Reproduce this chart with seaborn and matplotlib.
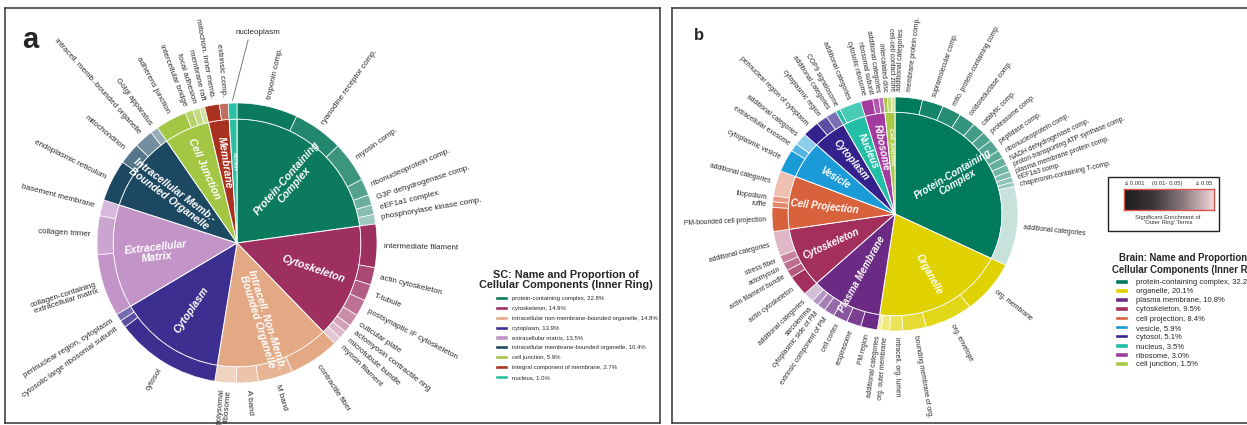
import matplotlib
matplotlib.use("Agg")
import matplotlib.pyplot as plt
import matplotlib.colors as mcolors
from matplotlib.patches import Patch, Rectangle
import numpy as np
import seaborn as sns

sns.set_style("white")
plt.rcParams['font.family'] = ['Liberation Sans', 'DejaVu Sans']

W, H = 1247, 425

# ---------------- panel a : SC ----------------
sc_inner_labels = ["Protein-Containing\nComplex", "Cytoskeleton", "Intracell. Non-Memb.\nBounded Organelle",
                   "Cytoplasm", "Extracellular\nMatrix", "Intracellular Memb.-\nBounded Organelle",
                   "Cell Junction", "Membrane", "Nucleus"]
sc_legend_names = ["protein-containing complex", "cytoskeleton", "intracellular non-membrane-bounded organelle",
                   "cytoplasm", "extracellular matrix", "intracellular membrane-bounded organelle",
                   "cell junction", "integral component of membrane", "nucleus"]
sc_pct = [22.8, 14.9, 14.8, 13.9, 13.5, 10.4, 5.9, 2.7, 1.0]
sc_colors = ["#0b7a5d", "#9e2f61", "#e3a884", "#3c2f8f", "#c294c8", "#1d4862", "#a3c644", "#a8311f", "#2bbfa3"]

sc_sub_group = [0, 0, 0, 0, 0, 0, 0,
                1, 1, 1, 1, 1, 1, 1, 1,
                2, 2, 2, 2,
                3, 3, 3,
                4, 4, 4,
                5, 5, 5, 5,
                6, 6, 6, 6,
                7, 7,
                8]
sc_sub_names = ["troponin comp.", "ryanodine receptor comp.", "myosin comp.", "ribonucleoprotein comp.",
                "G3P dehydrogenase comp.", "eEF1a1 complex", "phosphorylase kinase comp.",
                "intermediate filament", "actin cytoskeleton", "T-tubule", "postsynaptic IF cytoskeleton",
                "cuticular plate", "actomyosin contractile ring", "microtubule bundle", "myosin filament",
                "contractile fiber", "M band", "A band", "polysomal\nribosome",
                "cytosol", "cytosolic large ribosomal subunit", "perinuclear region, cytoplasm",
                "collagen-containing\nextracellular matrix", "collagen trimer", "basement membrane",
                "endoplasmic reticulum", "mitochondrion", "intracell. memb.-bounded organelle", "Golgi apparatus",
                "adherens junction", "intercellular bridge", "focal adhesion", "membrane raft",
                "mitochon. inner memb.", "extrinsic comp.",
                "nucleoplasm"]
sc_sub_pct = [7.0, 5.8, 4.7, 1.9, 1.2, 1.1, 1.1,
              5.0, 2.0, 1.9, 1.9, 1.4, 0.9, 0.9, 0.9,
              5.8, 4.0, 2.5, 2.5,
              12.2, 0.85, 0.85,
              7.2, 4.45, 1.85,
              4.8, 2.5, 2.2, 0.9,
              3.6, 0.9, 0.8, 0.6,
              1.7, 1.0,
              1.0]
sc_sub_tint = [0, 0.1, 0.2, 0.3, 0.4, 0.5, 0.6,
               0, 0.12, 0.22, 0.32, 0.45, 0.55, 0.65, 0.72,
               0, 0.15, 0.32, 0.5,
               0, 0.15, 0.3,
               0, 0.15, 0.35,
               0, 0.25, 0.38, 0.55,
               0, 0.2, 0.35, 0.5,
               0, 0.3,
               0]

# ---------------- panel b : Brain ----------------
br_inner_labels = ["Protein-Containing\nComplex", "Organelle", "Plasma Membrane", "Cytoskeleton",
                   "Cell Projection", "Vesicle", "Cytoplasm", "Nucleus", "Ribosome", "Cell Junction"]
br_legend_names = ["protein-containing complex", "organelle", "plasma membrane", "cytoskeleton",
                   "cell projection", "vesicle", "cytosol", "nucleus", "ribosome", "cell junction"]
br_pct = [32.2, 20.1, 10.8, 9.5, 8.4, 5.9, 5.1, 3.5, 3.0, 1.5]
br_colors = ["#007a5c", "#e0d200", "#6b2a84", "#a3305c", "#d8623c", "#1a9bd7", "#35218c", "#22bfa6",
             "#a33a9e", "#a9c845"]

br_sub_group = [0] * 14 + [1] * 6 + [2] * 7 + [3] * 5 + [4] * 4 + [5] * 3 + [6] * 3 + [7] * 2 + [8] * 3 + [9] * 3
br_sub_names = ["membrane protein comp.", "supramolecular comp.", "mito. protein-containing comp.",
                "oxidoreductase comp.", "catalytic comp.", "proteasome comp.", "peptidase comp.",
                "ribonucleoprotein comp.", "NADH dehydrogenase comp.", "proton-transporting ATP synthase comp.",
                "plasma membrane protein comp.", "eEF1a3 comp.", "chaperonin-containing T-comp.",
                "additional categories",
                "org. membrane", "org. envelope", "bounding membrane of org.", "intracell. org. lumen",
                "org. outer membrane", "additional categories",
                "PM region", "respirasome", "cell cortex", "extrinsic component of PM", "cytoplasmic side of PM",
                "sarcolemma", "additional categories",
                "actin cytoskeleton", "actin filament bundle", "actomyosin", "stress fiber", "additional categories",
                "PM-bounded cell projection", "ruffle", "filopodium", "additional categories",
                "cytoplasmic vesicle", "extracellular exosome", "additional categories",
                "perinuclear region of cytoplasm", "cytoplasmic region", "additional categories",
                "COP9 signalosome", "additional categories",
                "cytosolic ribosome", "ribosomal subunit", "additional categories",
                "intercalated disc", "cell-cell contact zone", "additional categories"]
br_sub_pct = [3.6, 2.8, 2.5, 2.2, 1.7, 1.4, 1.7, 1.1, 1.1, 1.0, 0.8, 0.7, 0.6, 11.0,
              7.4, 6.3, 3.1, 1.7, 1.1, 0.5,
              2.2, 1.9, 1.9, 1.4, 1.1, 0.9, 1.4,
              2.8, 1.1, 1.1, 1.1, 3.4,
              3.3, 0.8, 0.8, 3.5,
              3.1, 1.1, 1.7,
              2.2, 1.5, 1.4,
              0.6, 2.9,
              1.6, 0.8, 0.6,
              0.5, 0.5, 0.5]
br_sub_tint = [0, 0.08, 0.14, 0.2, 0.26, 0.3, 0.32, 0.36, 0.4, 0.45, 0.5, 0.55, 0.6, 0.78,
               0, 0.1, 0.2, 0.35, 0.5, 0.65,
               0, 0.1, 0.2, 0.3, 0.4, 0.5, 0.7,
               0, 0.2, 0.3, 0.4, 0.65,
               0, 0.25, 0.35, 0.6,
               0, 0.25, 0.5,
               0, 0.2, 0.35,
               0, 0.18,
               0, 0.15, 0.3,
               0, 0.3, 0.5]

# significance colour scale ('Outer Ring' terms)
sig_ticks = ["\u2264 0.001", "(0.01- 0.05)", "\u2265 0.05"]
sig_colors = ["#1c1c1c", "#3d3838", "#8d7d80", "#f3d6da"]

LABEL_COLOR = "#2a2a2a"


def tint(c, t):
    r = np.array(mcolors.to_rgb(c))
    return tuple(r + (1 - r) * t)


def radial_rot(theta, sx, sy):
    rad = np.radians(theta)
    phi = np.degrees(np.arctan2(sy * np.cos(rad), sx * np.sin(rad)))
    if phi > 90:
        return phi - 180, "right"
    if phi < -90:
        return phi + 180, "right"
    return phi, "left"


def spread(angles, gap):
    a = np.array(angles, float)
    for _ in range(500):
        moved = False
        for i in range(len(a) - 1):
            d = a[i + 1] - a[i]
            if d < gap - 1e-6:
                s = (gap - d) / 2
                a[i] -= s
                a[i + 1] += s
                moved = True
        if not moved:
            break
    return a


def sunburst(ax, pct, colors, inner_labels, sub_group, sub_names, sub_pct, sub_tint,
             sx, sy, r_in, inner_fs, outer_fs, gap, callout=None):
    ax.pie(pct, radius=r_in, colors=colors, startangle=90, counterclock=False,
           wedgeprops=dict(edgecolor="white", linewidth=0.7))
    sub_cols = [tint(colors[g], t) for g, t in zip(sub_group, sub_tint)]
    ax.pie(sub_pct, radius=1.0, colors=sub_cols, startangle=90, counterclock=False,
           wedgeprops=dict(width=1 - r_in, edgecolor="white", linewidth=0.5))

    total = float(sum(pct))
    ends = np.cumsum(pct) / total * 360
    spans = np.array(pct) / total * 360
    for lab, th, span in zip(inner_labels, ends - spans / 2, spans):
        fs = max(3.5, min(inner_fs, 0.8 * span))
        rot, _ = radial_rot(th, sx, sy)
        rad = np.radians(th)
        ax.text(0.58 * np.sin(rad), 0.58 * np.cos(rad), lab, rotation=rot, rotation_mode="anchor",
                ha="center", va="center", color="white", fontsize=fs, fontweight="bold",
                fontstyle="italic", linespacing=0.95)

    stotal = float(sum(sub_pct))
    send = np.cumsum(sub_pct) / stotal * 360
    smid = send - np.array(sub_pct) / stotal * 360 / 2
    idx = [i for i, n in enumerate(sub_names) if n != callout]
    placed = spread(smid[idx], gap)
    for i, th in zip(idx, placed):
        rot, ha = radial_rot(th, sx, sy)
        rad = np.radians(th)
        ax.text(1.05 * np.sin(rad), 1.05 * np.cos(rad), sub_names[i], rotation=rot,
                rotation_mode="anchor", ha=ha, va="center", color=LABEL_COLOR, fontsize=outer_fs,
                linespacing=0.95)
    if callout in sub_names:
        i = sub_names.index(callout)
        rad = np.radians(smid[i])
        ax.annotate(callout, xy=(1.02 * np.sin(rad), 1.02 * np.cos(rad)), xytext=(-0.01, 1.5),
                    ha="left", va="center", fontsize=outer_fs, color=LABEL_COLOR,
                    arrowprops=dict(arrowstyle="-", color="#666666", lw=0.6,
                                    shrinkA=0, shrinkB=0, relpos=(0.3, 0)))


def panel_axes(fig, box, center, sx, sy):
    x0, y0, x1, y1 = box
    ax = fig.add_axes([x0 / W, (H - y1) / H, (x1 - x0) / W, (y1 - y0) / H])
    return ax, ((x0 - center[0]) / sx, (x1 - center[0]) / sx), ((center[1] - y1) / sy, (center[1] - y0) / sy)


def finish(ax, xl, yl):
    ax.set_aspect("auto")
    ax.set_xlim(*xl)
    ax.set_ylim(*yl)
    ax.set_frame_on(True)
    ax.set_xticks([])
    ax.set_yticks([])
    for s in ax.spines.values():
        s.set_visible(True)
        s.set_color("#333333")
        s.set_linewidth(1.1)


fig = plt.figure(figsize=(W / 100, H / 100), dpi=100)

# panel a
ax_a, xl, yl = panel_axes(fig, (5, 8, 660, 423), (237, 243), 140, 140)
sunburst(ax_a, sc_pct, sc_colors, sc_inner_labels, sc_sub_group, sc_sub_names, sc_sub_pct, sc_sub_tint,
         140, 140, 0.885, 7.6, 5.8, 3.6, callout="nucleoplasm")
finish(ax_a, xl, yl)

# panel b
ax_b, xl, yl = panel_axes(fig, (672, 8, 1262, 423), (895, 214), 123, 117)
sunburst(ax_b, br_pct, br_colors, br_inner_labels, br_sub_group, br_sub_names, br_sub_pct, br_sub_tint,
         123, 117, 0.87, 7.0, 4.9, 3.3)
finish(ax_b, xl, yl)

fig.text(22 / W, 1 - 40 / H, "a", fontsize=21, fontweight="bold", va="center", ha="left")
fig.text(694 / W, 1 - 36 / H, "b", fontsize=12, fontweight="bold", va="center", ha="left")

# legends
fig.text(566 / W, 1 - 280 / H, "SC: Name and Proportion of\nCellular Components (Inner Ring)",
         ha="center", va="center", fontsize=7.8, fontweight="bold", linespacing=1.1)
sc_handles = [Patch(facecolor=c, label=f"{n}, {p:.1f}%") for c, n, p in zip(sc_colors, sc_legend_names, sc_pct)]
fig.legend(handles=sc_handles, loc="upper left", bbox_to_anchor=(495 / W, 1 - 296 / H), frameon=False,
           fontsize=4.3, handlelength=2.1, handleheight=0.7, handletextpad=0.8, labelspacing=0.78,
           borderpad=0, borderaxespad=0)

fig.text(1189 / W, 1 - 264 / H, "Brain: Name and Proportion of\nCellular Components (Inner Ring)",
         ha="center", va="center", fontsize=6.9, fontweight="bold", linespacing=1.15)
br_handles = [Patch(facecolor=c, label=f"{n}, {p:.1f}%") for c, n, p in zip(br_colors, br_legend_names, br_pct)]
fig.legend(handles=br_handles, loc="upper left", bbox_to_anchor=(1115 / W, 1 - 279 / H), frameon=False,
           fontsize=5.5, handlelength=1.7, handleheight=0.55, handletextpad=1.0, labelspacing=0.28,
           borderpad=0, borderaxespad=0)

# significance key
fig.add_artist(Rectangle((1108 / W, 1 - 231 / H), 111 / W, 54 / H, transform=fig.transFigure,
                         facecolor="none", edgecolor="#222222", linewidth=1.0))
cax = fig.add_axes([1124 / W, 1 - 210 / H, 90 / W, 21 / H])
cmap = mcolors.LinearSegmentedColormap.from_list("sig", sig_colors)
cax.imshow(np.linspace(0, 1, 256)[None, :], aspect="auto", cmap=cmap)
cax.set_xticks([])
cax.set_yticks([])
for s in cax.spines.values():
    s.set_color("#d9534f")
    s.set_linewidth(1.0)
for lab, x in zip(sig_ticks, [1135, 1167, 1204]):
    fig.text(x / W, 1 - 184 / H, lab, ha="center", va="center", fontsize=4.2, color="#333333")
fig.text(1168 / W, 1 - 220 / H, "Significant Enrichment of\n'Outer Ring' Terms", ha="center", va="center",
         fontsize=4.2, color="#333333", linespacing=1.2)

fig.savefig("out.png", dpi=100)
